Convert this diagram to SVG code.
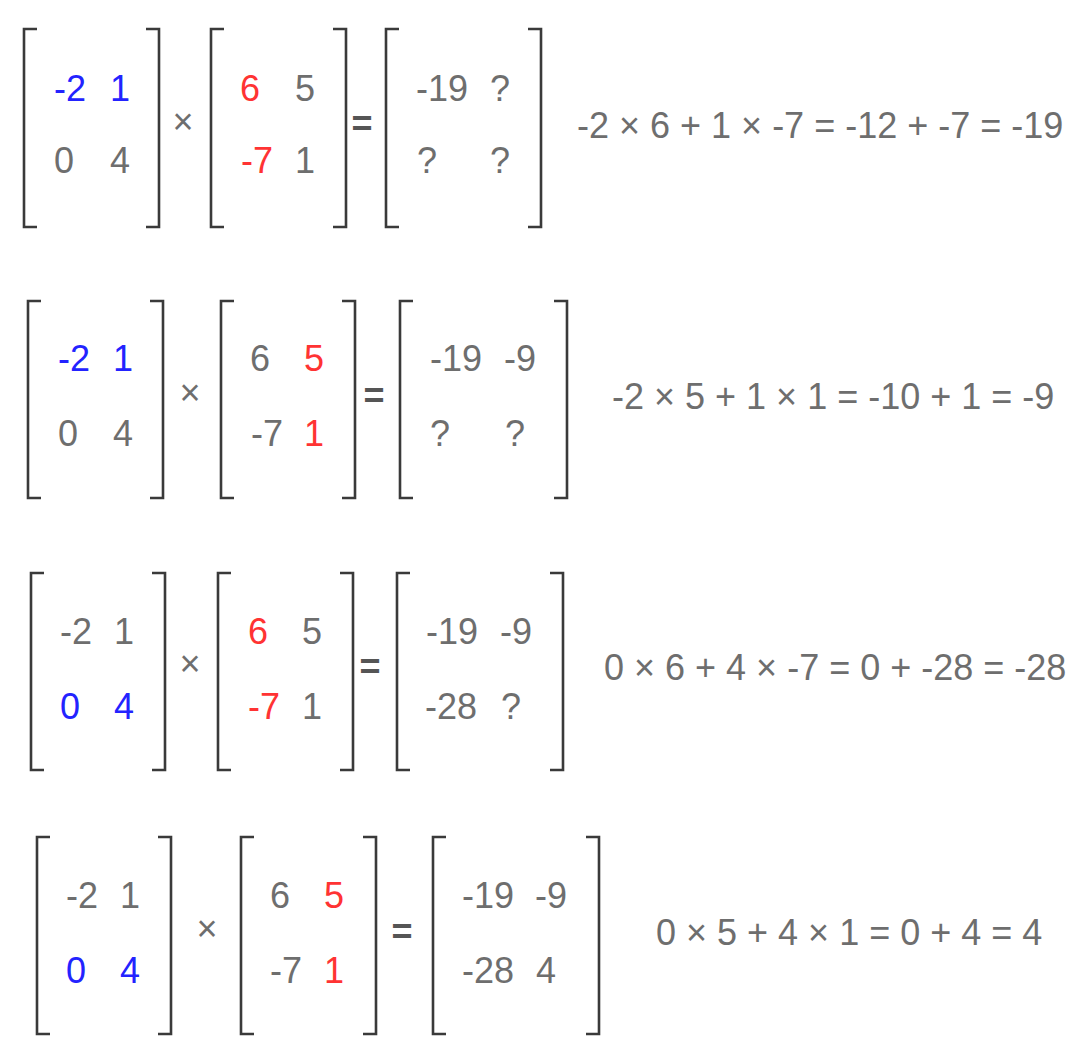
<svg xmlns="http://www.w3.org/2000/svg" width="1090" height="1064" viewBox="0 0 1090 1064">
<style>
text{font-family:"Liberation Sans",Arial,sans-serif;font-size:36px;fill:#6e6e6e}
.b{fill:#2323ff}
.r{fill:#ff3333}
.op{text-anchor:middle}
.eq{text-anchor:middle;font-weight:bold;fill:#555}
.br{fill:none;stroke:#3a3a3a;stroke-width:2.6}
</style>
<rect width="1090" height="1064" fill="#fff"/>
<!-- Row 1 -->
<g id="row1">
<g id="r1A">
<path class="br" d="M37,29 H24 V227 H37 M146,29 H159 V227 H146"/>
<text x="54" y="101" class="b">-2</text><text x="110" y="101" class="b">1</text>
<text x="54" y="173">0</text><text x="110" y="173">4</text>
</g>
<text x="183" y="134" class="op">×</text>
<g id="r1B">
<path class="br" d="M224,29 H211 V227 H224 M333,29 H346 V227 H333"/>
<text x="240" y="101" class="r">6</text><text x="295" y="101">5</text>
<text x="241" y="173" class="r">-7</text><text x="295" y="173">1</text>
</g>
<text x="362" y="136" class="eq">=</text>
<g id="r1C">
<path class="br" d="M399,29 H386 V227 H399 M528,29 H541 V227 H528"/>
<text x="416" y="101">-19</text><text x="490" y="101">?</text>
<text x="417" y="173">?</text><text x="490" y="173">?</text>
</g>
<text id="r1eq" x="577" y="138">-2 × 6 + 1 × -7 = -12 + -7 = -19</text>
</g>
<!-- Row 2 -->
<g id="row2">
<g id="r2A">
<path class="br" d="M41,301 H28 V498 H41 M150,301 H163 V498 H150"/>
<text x="58" y="371" class="b">-2</text><text x="113" y="371" class="b">1</text>
<text x="58" y="446">0</text><text x="113" y="446">4</text>
</g>
<text x="190" y="405" class="op">×</text>
<g id="r2B">
<path class="br" d="M234,301 H221 V498 H234 M342,301 H355 V498 H342"/>
<text x="250" y="371">6</text><text x="304" y="371" class="r">5</text>
<text x="251" y="446">-7</text><text x="304" y="446" class="r">1</text>
</g>
<text x="374" y="408" class="eq">=</text>
<g id="r2C">
<path class="br" d="M413,301 H400 V498 H413 M554,301 H567 V498 H554"/>
<text x="430" y="371">-19</text><text x="504" y="371">-9</text>
<text x="430" y="446">?</text><text x="505" y="446">?</text>
</g>
<text id="r2eq" x="612" y="409">-2 × 5 + 1 × 1 = -10 + 1 = -9</text>
</g>
<!-- Row 3 -->
<g id="row3">
<g id="r3A">
<path class="br" d="M44,573 H31 V770 H44 M152,573 H165 V770 H152"/>
<text x="60" y="644">-2</text><text x="114" y="644">1</text>
<text x="60" y="719" class="b">0</text><text x="114" y="719" class="b">4</text>
</g>
<text x="190" y="676" class="op">×</text>
<g id="r3B">
<path class="br" d="M231,573 H218 V770 H231 M340,573 H353 V770 H340"/>
<text x="248" y="644" class="r">6</text><text x="302" y="644">5</text>
<text x="248" y="719" class="r">-7</text><text x="302" y="719">1</text>
</g>
<text x="370" y="679" class="eq">=</text>
<g id="r3C">
<path class="br" d="M410,573 H397 V770 H410 M550,573 H563 V770 H550"/>
<text x="426" y="644">-19</text><text x="500" y="644">-9</text>
<text x="425" y="719">-28</text><text x="501" y="719">?</text>
</g>
<text id="r3eq" x="604" y="680">0 × 6 + 4 × -7 = 0 + -28 = -28</text>
</g>
<!-- Row 4 -->
<g id="row4">
<g id="r4A">
<path class="br" d="M50,837 H37 V1034 H50 M158,837 H171 V1034 H158"/>
<text x="66" y="908">-2</text><text x="120" y="908">1</text>
<text x="66" y="983" class="b">0</text><text x="120" y="983" class="b">4</text>
</g>
<text x="207" y="941" class="op">×</text>
<g id="r4B">
<path class="br" d="M254,837 H241 V1034 H254 M363,837 H376 V1034 H363"/>
<text x="270" y="908">6</text><text x="324" y="908" class="r">5</text>
<text x="270" y="983">-7</text><text x="324" y="983" class="r">1</text>
</g>
<text x="402" y="944" class="eq">=</text>
<g id="r4C">
<path class="br" d="M446,837 H433 V1034 H446 M586,837 H599 V1034 H586"/>
<text x="462" y="908">-19</text><text x="535" y="908">-9</text>
<text x="462" y="983">-28</text><text x="536" y="983">4</text>
</g>
<text id="r4eq" x="656" y="945">0 × 5 + 4 × 1 = 0 + 4 = 4</text>
</g>
</svg>
